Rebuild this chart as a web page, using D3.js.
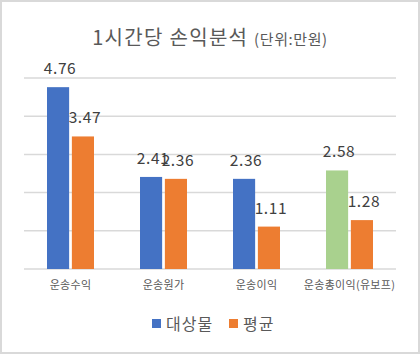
<!DOCTYPE html>
<html>
<head>
<meta charset="utf-8">
<script src="https://cdn.jsdelivr.net/npm/d3@7"></script>
<style>
  body { margin: 0; background: #fff; }
  text { font-family: "Noto Sans CJK KR", "Noto Sans", sans-serif; }
</style>
</head>
<body>
<div id="chart"></div>
<script>
// chart values
const categories = ["운송수익", "운송원가", "운송이익", "운송총이익(유보프)"];
const seriesNames = ["대상물", "평균"];
const targetValues = [4.76, 2.41, 2.36, 2.58];
const averageValues = [3.47, 2.36, 1.11, 1.28];
const gridTicks = [0, 1, 2, 3, 4, 5];

const colors = { "대상물": "#4472C4", "평균": "#ED7D31" };
const highlightColor = "#A9D18E"; // last category's first bar is green

const data = categories.map((c, i) => ({
  category: c,
  values: [
    { series: "대상물", value: targetValues[i] },
    { series: "평균", value: averageValues[i] }
  ]
}));

let dimensions = {
  width: 420,
  height: 354,
  margins: { top: 78, bottom: 85, left: 24, right: 24 }
};
dimensions.containerWidth = dimensions.width - dimensions.margins.left - dimensions.margins.right;
dimensions.containerHeight = dimensions.height - dimensions.margins.top - dimensions.margins.bottom;

const svg = d3.select("#chart")
  .append("svg")
  .attr("width", dimensions.width)
  .attr("height", dimensions.height);

// outer border
svg.append("rect")
  .attr("x", 1).attr("y", 1)
  .attr("width", dimensions.width - 2).attr("height", dimensions.height - 2)
  .attr("fill", "#fff")
  .attr("stroke", "#d9d9d9")
  .attr("stroke-width", 2);

// title
const title = svg.append("text")
  .attr("x", 210)
  .attr("y", 45)
  .attr("text-anchor", "middle")
  .attr("fill", "#595959");
title.append("tspan").attr("font-size", 20).attr("letter-spacing", 1.3).text("1시간당 손익분석 ");
title.append("tspan").attr("font-size", 15).attr("letter-spacing", 0.6).text("(단위:만원)");

const container = svg.append("g")
  .attr("transform", `translate(${dimensions.margins.left}, ${dimensions.margins.top})`);

const x = d3.scaleBand()
  .domain(categories)
  .range([0, dimensions.containerWidth]);

const x1 = d3.scaleBand()
  .domain(seriesNames)
  .range([x.bandwidth() / 2 - 23.5, x.bandwidth() / 2 + 23.5])
  .paddingInner(0.11);

const y = d3.scaleLinear()
  .domain([0, 5])
  .range([dimensions.containerHeight, 0]);

// gridlines
container.append("g")
  .selectAll("line")
  .data(gridTicks)
  .join("line")
  .attr("x1", 0)
  .attr("x2", dimensions.containerWidth)
  .attr("y1", d => y(d))
  .attr("y2", d => y(d))
  .attr("stroke", "#d9d9d9")
  .attr("stroke-width", 1.5);

// bars
const groups = container.selectAll(".group")
  .data(data)
  .join("g")
  .attr("class", "group")
  .attr("transform", d => `translate(${x(d.category)}, 0)`);

groups.selectAll("rect")
  .data((d, i) => d.values.map(v => ({ ...v, idx: i })))
  .join("rect")
  .attr("x", d => x1(d.series))
  .attr("y", d => y(d.value))
  .attr("width", x1.bandwidth())
  .attr("height", d => dimensions.containerHeight - y(d.value))
  .attr("fill", d => (d.idx === 3 && d.series === "대상물") ? highlightColor : colors[d.series]);

// value labels
groups.selectAll(".label")
  .data(d => d.values)
  .join("text")
  .attr("class", "label")
  .attr("x", d => x1(d.series) + x1.bandwidth() / 2 + 2)
  .attr("y", d => y(d.value) - 13)
  .attr("text-anchor", "middle")
  .attr("font-size", 15.5)
  .attr("letter-spacing", 0.6)
  .attr("fill", "#404040")
  .text(d => d.value.toFixed(2));

// category axis labels
container.append("g")
  .selectAll("text")
  .data(categories)
  .join("text")
  .attr("x", d => x(d) + x.bandwidth() / 2)
  .attr("y", dimensions.containerHeight + 20)
  .attr("text-anchor", "middle")
  .attr("font-size", 11)
  .attr("letter-spacing", 0.3)
  .attr("fill", "#595959")
  .text(d => d);

// legend
const legend = svg.append("g");
const legendItems = [
  { name: "대상물", x: 152 },
  { name: "평균", x: 229 }
];
legendItems.forEach(item => {
  legend.append("rect")
    .attr("x", item.x)
    .attr("y", 319)
    .attr("width", 9)
    .attr("height", 9)
    .attr("fill", colors[item.name]);
  legend.append("text")
    .attr("x", item.x + 14)
    .attr("y", 330)
    .attr("font-size", 16)
    .attr("letter-spacing", 1)
    .attr("fill", "#595959")
    .text(item.name);
});
</script>
</body>
</html>
